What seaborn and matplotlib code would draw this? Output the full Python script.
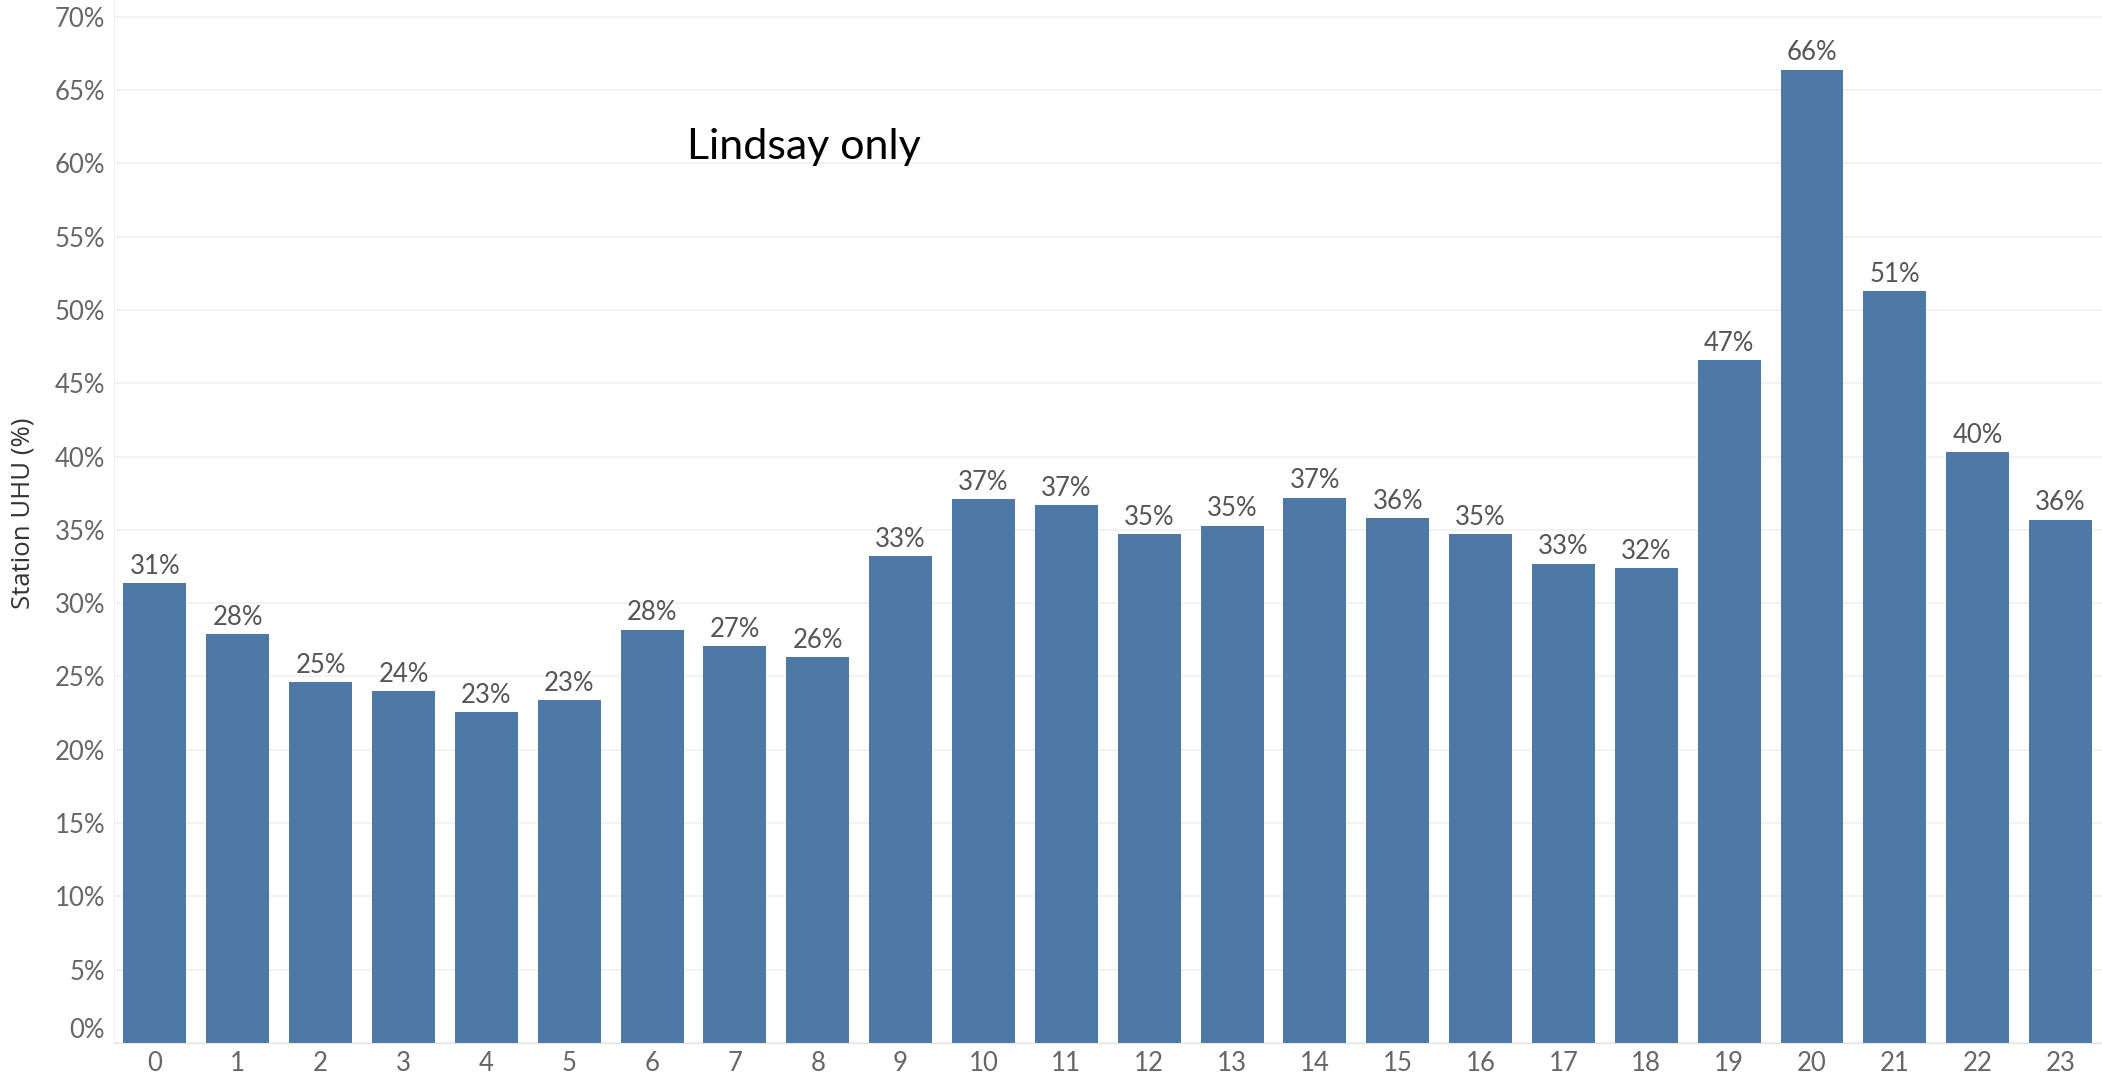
import matplotlib
matplotlib.use("Agg")
import matplotlib.pyplot as plt
import seaborn as sns
import pandas as pd

hours = list(range(24))
uhu = [31.4, 27.9, 24.6, 24.0, 22.6, 23.4, 28.2, 27.1, 26.3, 33.2, 37.1, 36.7,
       34.7, 35.3, 37.2, 35.8, 34.7, 32.7, 32.4, 46.6, 66.4, 51.3, 40.3, 35.7]
yticks = list(range(0, 75, 5))
ytick_labels = [f"{t}%" for t in yticks]
ylabel = "Station UHU (%)"
note = "Lindsay only"

df = pd.DataFrame({"hour": hours, "uhu": uhu})

sns.set_style("white")
plt.rcParams["font.family"] = ["Lato", "DejaVu Sans"]

fig = plt.figure(figsize=(21.02, 10.78), dpi=100)
ax = fig.add_axes([0.054, 0.0325, 0.946, 0.9675])

sns.barplot(data=df, x="hour", y="uhu", color="#4e79a7", saturation=1,
            width=0.76, ax=ax, linewidth=0)

ax.set_ylim(0, 71.15)
ax.set_xlim(-0.5, 23.5)
ax.set_yticks(yticks)
ax.set_yticklabels(ytick_labels)
ax.grid(axis="y", color="#f0f0f0", linewidth=1.2)
ax.set_axisbelow(True)

for s in ["top", "right"]:
    ax.spines[s].set_visible(False)
ax.spines["left"].set_color("#f0f0f0")
ax.spines["bottom"].set_color("#e4e4e4")

ax.tick_params(axis="both", colors="#666666", labelsize=18.5, length=0, pad=6)
ax.set_xlabel("")
ax.set_ylabel(ylabel, fontsize=18.5, color="#333333", family=["Open Sans", "DejaVu Sans"])
ax.yaxis.set_label_coords(-0.039, 0.508)

ax.bar_label(ax.containers[0], fmt="%.0f%%", padding=3, fontsize=18.5, color="#555555")

# Tableau nudges the 0% label up off the baseline
ax.get_yticklabels()[0].set_verticalalignment("bottom")

fig.text(0.327, 0.864, note, fontsize=31, color="black", ha="left", va="center")

fig.savefig("out.png", dpi=100)
